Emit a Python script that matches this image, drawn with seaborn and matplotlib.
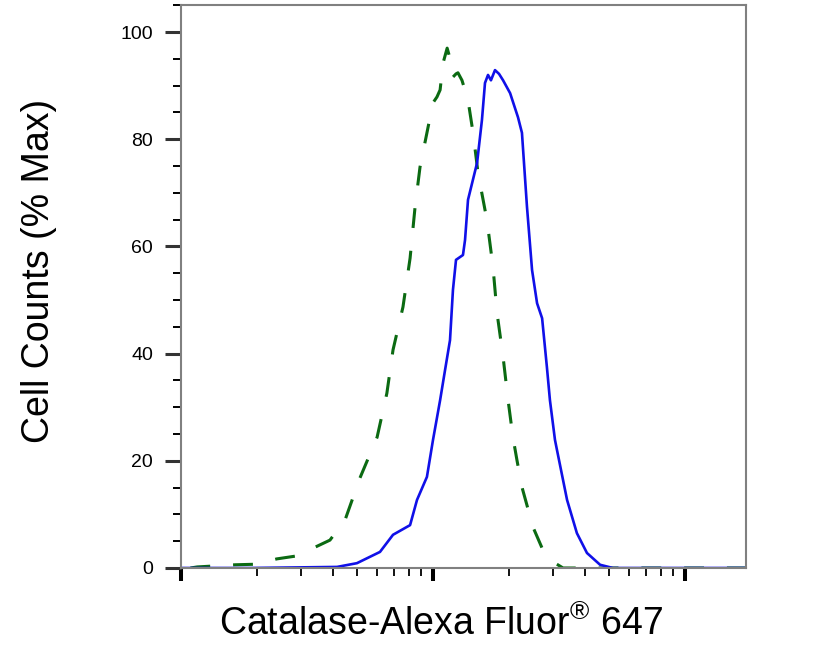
import matplotlib
matplotlib.use("Agg")
import matplotlib.pyplot as plt
from matplotlib.ticker import LogLocator, NullFormatter, MultipleLocator
import seaborn as sns

# Catalase-Alexa Fluor 647 stained sample (blue, solid)
stain_x = [10, 18.8, 41.6, 49.9, 61.6, 69.4, 81.1, 86.4, 94.6, 100, 106.7, 111.6,
           116.8, 120.0, 123.4, 131.5, 134.0, 137.7, 149.6, 156.4, 160.8, 165.3,
           169.8, 176.2, 182.8, 189.7, 202.3, 217.4, 225.4, 236.0, 247.2, 258.8,
           271.0, 283.1, 291.1, 304.8, 310.5, 340.4, 372.4, 408.3, 460.3, 517.6, 1746]
stain_y = [0, 0, 0.2, 0.9, 3.0, 6.2, 8.0, 12.7, 17.0, 23.9, 31.3, 36.9,
           42.5, 51.9, 57.5, 58.4, 61.2, 68.7, 75.6, 83.6, 90.5, 92.0,
           91.0, 92.9, 92.2, 91.0, 88.6, 84.1, 81.2, 67.4, 55.6, 49.4,
           46.6, 37.5, 31.3, 23.9, 22.0, 12.7, 6.5, 2.8, 0.6, 0, 0]

# unstained / isotype control (green, dashed)
ctrl_x = [10.9, 11.6, 16.4, 19.7, 24.0, 28.3, 33.4, 39.0, 44.8, 51.3, 60.0, 65.6,
          69.4, 76.0, 81.1, 84.9, 88.8, 94.6, 100, 103.7, 106.7, 109.6, 113.8,
          116.8, 120.0, 123.4, 125.6, 130.3, 137.7, 144.2, 150.9, 163.7, 173.0,
          179.5, 189.7, 198.6, 207.6, 215.4, 225.4, 249.5, 271.0, 291.1, 328.1, 1746]
ctrl_y = [0, 0.2, 0.6, 0.7, 1.7, 2.2, 3.7, 5.2, 9.0, 16.8, 24.4, 32.6,
          40.7, 48.7, 57.8, 67.4, 74.8, 81.2, 86.8, 87.9, 89.2, 94.2, 97.0,
          95.1, 91.6, 92.2, 92.4, 91.0, 87.3, 81.2, 73.7, 64.9, 56.2,
          47.6, 39.4, 31.3, 24.4, 20.1, 15.1, 7.6, 3.7, 1.5, 0, 0]

sns.set_style("ticks")
plt.rcParams['font.family'] = ['Liberation Sans', 'DejaVu Sans']
plt.rcParams['mathtext.fontset'] = 'custom'
plt.rcParams['mathtext.rm'] = 'Liberation Sans'
plt.rcParams['text.color'] = 'black'
plt.rcParams['axes.labelcolor'] = 'black'

fig = plt.figure(figsize=(8.21, 6.5), dpi=100)
ax = fig.add_axes([181 / 821, 1 - 568 / 650, 565 / 821, 563 / 650])

sns.lineplot(x=ctrl_x, y=ctrl_y, ax=ax, estimator=None, sort=False,
             color='#0b6a12', lw=2.2, linestyle=(0, (6.5, 7.5)))
sns.lineplot(x=stain_x, y=stain_y, ax=ax, estimator=None, sort=False,
             color='#1010e8', lw=1.9)

ax.set_xscale('log')
ax.set_xlim(10, 1746)
ax.set_ylim(0, 105.05)

ax.xaxis.set_major_locator(LogLocator(base=10))
ax.xaxis.set_minor_locator(LogLocator(base=10, subs=range(2, 10)))
ax.xaxis.set_major_formatter(NullFormatter())
ax.xaxis.set_minor_formatter(NullFormatter())
ax.yaxis.set_major_locator(MultipleLocator(20))
ax.yaxis.set_minor_locator(MultipleLocator(5))

ax.tick_params(axis='x', which='major', length=9.5, width=2.9, color='black')
ax.tick_params(axis='x', which='minor', length=5.4, width=1.3, color='black')
ax.tick_params(axis='y', which='major', length=11.5, width=2.2, color='#333333',
               pad=8.6, labelsize=14, labelcolor='black')
ax.tick_params(axis='y', which='minor', length=5.8, width=1.4, color='black')

for s in ax.spines.values():
    s.set_color('#808080')
    s.set_linewidth(1.5)

ax.set_ylabel('Cell Counts (% Max)', fontsize=27)
ax.yaxis.set_label_coords(-0.219, 0.527)
ax.set_xlabel('Catalase-Alexa Fluor$^{\u00ae}$ 647', fontsize=27)
ax.xaxis.set_label_coords(0.46, -0.066)

fig.savefig('out.png', dpi=100)
